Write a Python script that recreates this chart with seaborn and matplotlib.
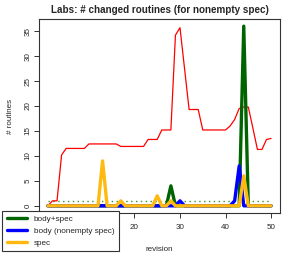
import matplotlib
matplotlib.use("Agg")
import matplotlib.pyplot as plt
import seaborn as sns

# revisions 1..50
revision = list(range(1, 51))

# thin red line (all changed routines)
all_routines = [0, 1, 1, 10.2, 11.5, 11.5, 11.5, 11.5, 11.5, 12.4,
                12.4, 12.4, 12.4, 12.4, 12.4, 12.4, 11.9, 11.9, 11.9, 11.9,
                11.9, 11.9, 13.3, 13.3, 13.3, 15.2, 15.2, 15.2, 34.2, 35.7,
                27.5, 19.3, 19.3, 19.3, 15.2, 15.2, 15.2, 15.2, 15.2, 15.2,
                16.0, 17.3, 19.5, 19.8, 19.8, 15.6, 11.3, 11.3, 13.3, 13.5]

body_spec = [0] * 27 + [4] + [0] * 15 + [36] + [0] * 6
body_nonempty = [0] * 29 + [1] + [0] * 11 + [1, 8] + [0] * 7
spec_only = [0] * 12 + [9] + [0] * 3 + [1] + [0] * 7 + [2] + [0] * 2 + [1] + [0] * 15 + [6] + [0] * 6

series_labels = ["body+spec", "body (nonempty spec)", "spec"]
series_colors = ["#006400", "#0000FF", "#FFB90F"]

x_ticks = [0, 10, 20, 30, 40, 50]
# 0 and 10 sit under the legend box in the original
x_ticklabels = ["", "", "20", "30", "40", "50"]

sns.set_style("ticks")
plt.rcParams["font.family"] = ["Liberation Sans", "DejaVu Sans"]

fig = plt.figure(figsize=(2.94, 2.54), dpi=100)
ax = fig.add_axes([39 / 294, 1 - 213 / 254, 241 / 294, 194 / 254])

sns.lineplot(x=revision, y=all_routines, color="#FF0000", lw=0.9, ax=ax)
for vals, lab, col in zip([body_spec, body_nonempty, spec_only], series_labels, series_colors):
    sns.lineplot(x=revision, y=vals, color=col, lw=2.4, label=lab, ax=ax)

# dotted reference line at 1
ax.hlines(1, revision[0], revision[-1], colors="#2E9B2E", linestyles=(0, (1, 2.5)), lw=1.0, zorder=1)

ax.set_xlim(-0.96, 51.96)
ax.set_ylim(-1.44, 37.44)
ax.set_xticks(x_ticks)
ax.set_xticklabels(x_ticklabels)
ax.set_yticks([0, 5, 10, 15, 20, 25, 30, 35])
ax.tick_params(axis="both", direction="out", length=3.8, width=0.7, labelsize=5.8, color="#333333")
ax.tick_params(axis="x", pad=4)
ax.tick_params(axis="y", pad=1.5)
plt.setp(ax.get_yticklabels(), rotation=90, va="center")
for s in ax.spines.values():
    s.set_visible(True)
    s.set_color("#333333")
    s.set_linewidth(0.8)

ax.set_title("Labs: # changed routines (for nonempty spec)", fontsize=7.1, fontweight="bold", pad=4.5)
ax.set_xlabel("revision", fontsize=5.8, labelpad=11)
ax.set_ylabel("# routines", fontsize=5.8, labelpad=8)

ax.legend_.remove()
handles, labels = ax.get_legend_handles_labels()
leg = fig.legend(handles, labels, loc="upper left", bbox_to_anchor=(2 / 294, 1 - 211 / 254),
                 fontsize=5.9, frameon=True, fancybox=False, edgecolor="#333333",
                 framealpha=1, borderpad=0.55, labelspacing=0.5, handlelength=2.5,
                 handletextpad=0.8, borderaxespad=0)
leg.get_frame().set_linewidth(0.8)

fig.savefig("out.png", dpi=100)
